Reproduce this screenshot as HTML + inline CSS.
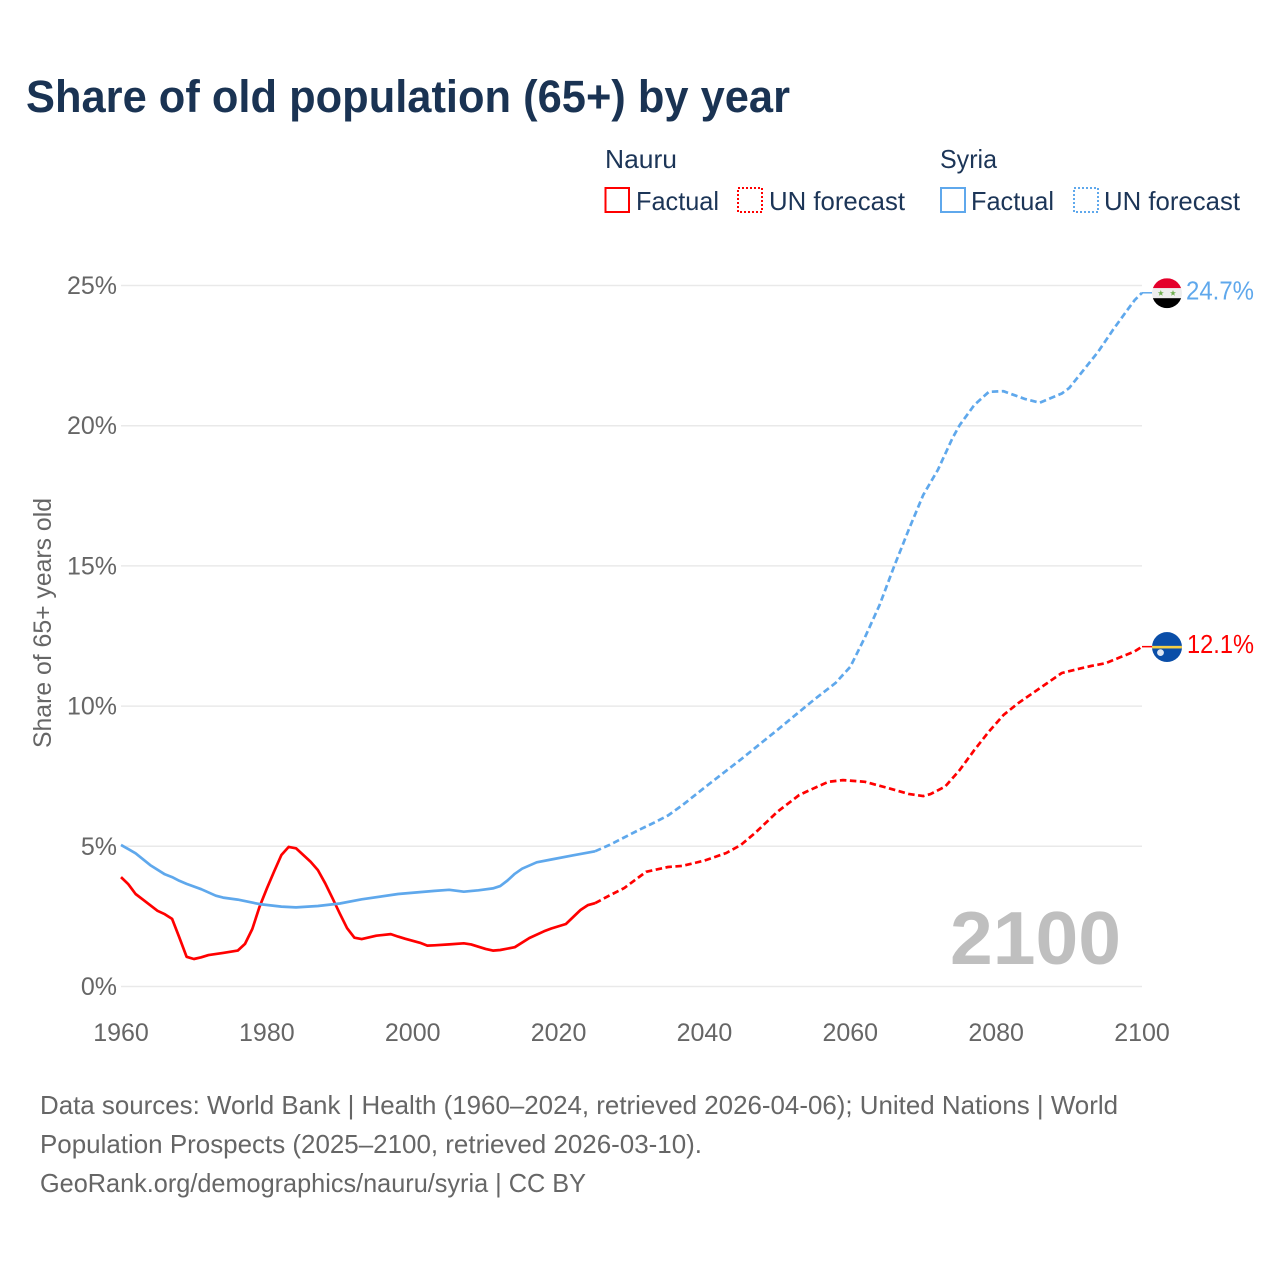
<!DOCTYPE html>
<html lang="en">
<head>
<meta charset="utf-8">
<title>Share of old population (65+) by year</title>
<style>
  html, body { margin: 0; padding: 0; background: #ffffff; }
  svg { display: block; font-family: "Liberation Sans", sans-serif; }
  .legend-text { fill: #1c3557; font-size: 26px; }
  .tick { fill: #666666; font-size: 25px; }
  .foot { fill: #666666; font-size: 26px; }
</style>
</head>
<body>
<svg id="chart" xmlns="http://www.w3.org/2000/svg" width="1280" height="1280" viewBox="0 0 1280 1280">
  <rect x="0" y="0" width="1280" height="1280" fill="#ffffff"/>
  <text x="26" y="112" font-size="45" font-weight="700" fill="#1a3353" textLength="764" lengthAdjust="spacingAndGlyphs">Share of old population (65+) by year</text>

  <g>
    <text class="legend-text" x="605" y="168" textLength="72" lengthAdjust="spacingAndGlyphs">Nauru</text>
    <rect x="605.5" y="188" width="23.5" height="24" fill="none" stroke="#ff0000" stroke-width="2"/>
    <text class="legend-text" x="636" y="210" textLength="83" lengthAdjust="spacingAndGlyphs">Factual</text>
    <rect x="738" y="188" width="24" height="24" fill="none" stroke="#ff0000" stroke-width="2" stroke-dasharray="2 2"/>
    <text class="legend-text" x="769" y="210" textLength="136" lengthAdjust="spacingAndGlyphs">UN forecast</text>
    <text class="legend-text" x="940" y="168" textLength="57" lengthAdjust="spacingAndGlyphs">Syria</text>
    <rect x="941" y="188" width="24" height="24" fill="none" stroke="#5fa8ec" stroke-width="2"/>
    <text class="legend-text" x="971" y="210" textLength="83" lengthAdjust="spacingAndGlyphs">Factual</text>
    <rect x="1074" y="188" width="24" height="24" fill="none" stroke="#5fa8ec" stroke-width="2" stroke-dasharray="2 2"/>
    <text class="legend-text" x="1104" y="210" textLength="136" lengthAdjust="spacingAndGlyphs">UN forecast</text>
  </g>

  <g id="grid"></g>
  <g id="yticks"></g>
  <g id="xticks"></g>
  <text class="tick" transform="translate(51,748) rotate(-90)" x="0" y="0" textLength="250" lengthAdjust="spacingAndGlyphs">Share of 65+ years old</text>

  <text x="950" y="964" font-size="75" font-weight="700" fill="#bfbfbf" textLength="171" lengthAdjust="spacingAndGlyphs">2100</text>

  <g id="series"></g>

  <defs>
    <clipPath id="flag-clip"><circle cx="0" cy="0" r="15"/></clipPath>
  </defs>
  <g id="flag-syria">
    <g clip-path="url(#flag-clip)">
      <rect x="-15" y="-15" width="30" height="10" fill="#e4002b"/>
      <rect x="-15" y="-5" width="30" height="10" fill="#eeeeee"/>
      <rect x="-15" y="5" width="30" height="10" fill="#000000"/>
      <polygon transform="translate(-6.2,0)" points="0,-3.2 0.8,-1 3,-1 1.2,0.4 1.9,2.6 0,1.3 -1.9,2.6 -1.2,0.4 -3,-1 -0.8,-1" fill="#6fae4e"/>
      <polygon transform="translate(6,0)" points="0,-3.2 0.8,-1 3,-1 1.2,0.4 1.9,2.6 0,1.3 -1.9,2.6 -1.2,0.4 -3,-1 -0.8,-1" fill="#6fae4e"/>
    </g>
  </g>
  <g id="flag-nauru">
    <g clip-path="url(#flag-clip)">
      <rect x="-15" y="-15" width="30" height="30" fill="#0a4ea8"/>
      <rect x="-15" y="-1.2" width="30" height="2.6" fill="#f5cf45"/>
      <circle cx="-6.5" cy="5.6" r="3.4" fill="#dfe7f2"/>
    </g>
  </g>
  <text id="value-syria" x="1186" font-size="25.5" fill="#5fa8ec" textLength="68" lengthAdjust="spacingAndGlyphs"></text>
  <text id="value-nauru" x="1187" font-size="25.5" fill="#ff0000" textLength="67" lengthAdjust="spacingAndGlyphs"></text>

  <g>
    <text class="foot" x="40" y="1114" textLength="1078" lengthAdjust="spacingAndGlyphs">Data sources: World Bank | Health (1960–2024, retrieved 2026-04-06); United Nations | World</text>
    <text class="foot" x="40" y="1153" textLength="662" lengthAdjust="spacingAndGlyphs">Population Prospects (2025–2100, retrieved 2026-03-10).</text>
    <text class="foot" x="40" y="1192" textLength="546" lengthAdjust="spacingAndGlyphs">GeoRank.org/demographics/nauru/syria | CC BY</text>
  </g>
</svg>

<script>
const yTickValues = [0, 5, 10, 15, 20, 25];
const xTickYears = [1960, 1980, 2000, 2020, 2040, 2060, 2080, 2100];

const nauruFactualYears = [1960, 1961, 1962, 1963, 1964, 1965, 1966, 1967, 1968, 1969, 1970, 1971, 1972, 1974, 1976, 1977, 1978, 1979, 1980, 1981, 1982, 1983, 1984, 1985, 1986, 1987, 1988, 1989, 1990, 1991, 1992, 1993, 1995, 1997, 1998, 1999, 2001, 2002, 2003, 2005, 2007, 2008, 2010, 2011, 2012, 2014, 2016, 2018, 2019, 2021, 2022, 2023, 2024, 2025];
const nauruFactualValues = [3.9, 3.65, 3.3, 3.1, 2.9, 2.7, 2.58, 2.41, 1.75, 1.06, 0.98, 1.04, 1.12, 1.2, 1.28, 1.52, 2.05, 2.85, 3.5, 4.1, 4.69, 4.98, 4.93, 4.69, 4.45, 4.15, 3.68, 3.15, 2.6, 2.08, 1.74, 1.69, 1.81, 1.87, 1.78, 1.7, 1.56, 1.46, 1.47, 1.5, 1.54, 1.5, 1.34, 1.28, 1.3, 1.4, 1.73, 1.97, 2.07, 2.23, 2.48, 2.73, 2.9, 2.97];
const nauruForecastYears = [2025, 2027, 2029, 2032, 2035, 2037, 2040, 2043, 2045, 2047, 2050, 2053, 2055, 2057, 2059, 2062, 2065, 2068, 2070, 2071, 2073, 2075, 2077, 2079, 2081, 2083, 2085, 2087, 2089, 2091, 2093, 2095, 2097, 2099, 2100];
const nauruForecastValues = [2.97, 3.25, 3.51, 4.09, 4.26, 4.3, 4.49, 4.76, 5.05, 5.49, 6.23, 6.83, 7.07, 7.3, 7.36, 7.3, 7.09, 6.87, 6.79, 6.86, 7.13, 7.72, 8.43, 9.09, 9.68, 10.1, 10.46, 10.82, 11.18, 11.31, 11.43, 11.53, 11.74, 11.95, 12.12];

const syriaFactualYears = [1960, 1962, 1964, 1966, 1967, 1968, 1969, 1971, 1973, 1974, 1976, 1979, 1982, 1984, 1987, 1990, 1993, 1998, 2003, 2005, 2007, 2009, 2011, 2012, 2013, 2014, 2015, 2017, 2019, 2022, 2025];
const syriaFactualValues = [5.05, 4.75, 4.33, 4.0, 3.9, 3.77, 3.66, 3.47, 3.24, 3.17, 3.1, 2.94, 2.85, 2.82, 2.87, 2.96, 3.11, 3.3, 3.41, 3.45, 3.38, 3.43, 3.5, 3.58, 3.78, 4.02, 4.2, 4.43, 4.53, 4.68, 4.82];
const syriaForecastYears = [2025, 2027, 2031, 2033, 2035, 2037, 2040, 2045, 2050, 2055, 2058, 2060, 2062, 2064, 2066, 2068, 2070, 2072, 2074, 2075, 2077, 2079, 2081, 2084, 2086, 2089, 2090, 2092, 2094, 2096, 2098, 2099, 2100];
const syriaForecastValues = [4.82, 5.05, 5.58, 5.83, 6.1, 6.47, 7.09, 8.1, 9.15, 10.22, 10.83, 11.4, 12.45, 13.6, 14.97, 16.28, 17.53, 18.42, 19.55, 20.02, 20.74, 21.21, 21.23, 20.95, 20.82, 21.15, 21.34, 21.99, 22.64, 23.41, 24.13, 24.48, 24.74];

const SVG_NS = 'http://www.w3.org/2000/svg';
function xScale(year) { return 121 + (year - 1960) * (1142 - 121) / 140; }
function yScale(value) { return 986.5 - value * (986.5 - 285.5) / 25; }

const gridGroup = document.getElementById('grid');
const yTickGroup = document.getElementById('yticks');
const xTickGroup = document.getElementById('xticks');
const seriesGroup = document.getElementById('series');

yTickValues.forEach(function (v) {
  const line = document.createElementNS(SVG_NS, 'line');
  line.setAttribute('x1', 121);
  line.setAttribute('x2', 1142);
  line.setAttribute('y1', yScale(v));
  line.setAttribute('y2', yScale(v));
  line.setAttribute('stroke', '#e9e9e9');
  line.setAttribute('stroke-width', 1.5);
  
  
  gridGroup.appendChild(line);

  const label = document.createElementNS(SVG_NS, 'text');
  label.setAttribute('x', 117);
  label.setAttribute('y', yScale(v) + 8.5);
  label.setAttribute('text-anchor', 'end');
  label.setAttribute('class', 'tick');
  
  
  label.textContent = v + '%';
  yTickGroup.appendChild(label);
});

xTickYears.forEach(function (year) {
  const label = document.createElementNS(SVG_NS, 'text');
  label.setAttribute('x', xScale(year));
  label.setAttribute('y', 1041);
  label.setAttribute('text-anchor', 'middle');
  label.setAttribute('class', 'tick');
  
  
  label.textContent = year;
  xTickGroup.appendChild(label);
});

function toPoints(years, values) {
  return years.map(function (year, i) {
    return xScale(year).toFixed(1) + ',' + yScale(values[i]).toFixed(1);
  }).join(' ');
}

function drawLine(name, years, values, color, dashed) {
  const line = document.createElementNS(SVG_NS, 'polyline');
  line.setAttribute('points', toPoints(years, values));
  line.setAttribute('fill', 'none');
  line.setAttribute('stroke', color);
  line.setAttribute('stroke-width', 2.7);
  line.setAttribute('stroke-linejoin', 'round');
  if (dashed) {
    line.setAttribute('stroke-dasharray', '6.5 3.5');
  }
  
  
  seriesGroup.appendChild(line);
}

drawLine('nauru-factual-line', nauruFactualYears, nauruFactualValues, '#ff0000', false);
drawLine('nauru-forecast-line', nauruForecastYears, nauruForecastValues, '#ff0000', true);
drawLine('syria-factual-line', syriaFactualYears, syriaFactualValues, '#5fa8ec', false);
drawLine('syria-forecast-line', syriaForecastYears, syriaForecastValues, '#5fa8ec', true);

function placeEnd(name, flagId, labelId, lastValue, color) {
  const y = yScale(lastValue);
  const connector = document.createElementNS(SVG_NS, 'line');
  connector.setAttribute('x1', xScale(2100));
  connector.setAttribute('x2', 1152);
  connector.setAttribute('y1', y);
  connector.setAttribute('y2', y);
  connector.setAttribute('stroke', color);
  connector.setAttribute('stroke-width', 1.5);
  
  
  seriesGroup.appendChild(connector);
  document.getElementById(flagId).setAttribute('transform', 'translate(1167,' + (y + 0.4) + ')');
  const label = document.getElementById(labelId);
  label.setAttribute('y', y + 6.5);
  label.textContent = lastValue.toFixed(1) + '%';
}

placeEnd('nauru', 'flag-nauru', 'value-nauru', nauruForecastValues[nauruForecastValues.length - 1], '#ff0000');
placeEnd('syria', 'flag-syria', 'value-syria', syriaForecastValues[syriaForecastValues.length - 1], '#5fa8ec');
</script>
</body>
</html>
